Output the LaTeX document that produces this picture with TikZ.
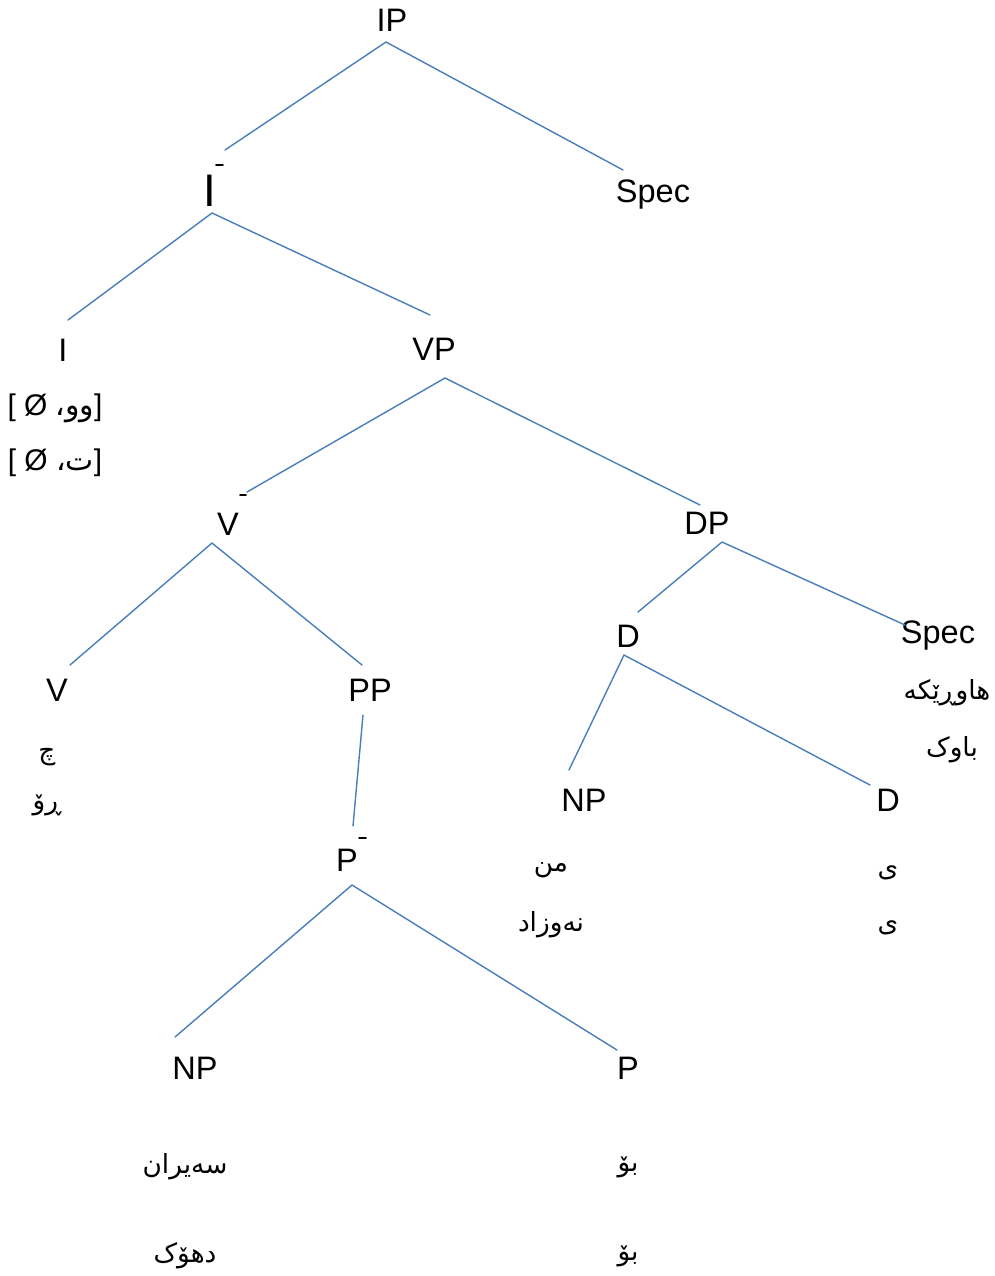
\documentclass[tikz,border=0pt]{standalone}
\usepackage{fontspec}
\setmainfont{Liberation Sans}
\newfontfamily\arabicfont[Script=Arabic]{DejaVu Sans}
\TeXXeTstate=1
\usetikzlibrary{positioning}
\definecolor{branchblue}{RGB}{74,126,187}

\tikzset{
  branch/.style={draw=branchblue, line width=0.8pt},
  cat/.style={inner sep=0pt, font=\fontsize{18.5}{22}\selectfont},
  bigcat/.style={inner sep=0pt, font=\fontsize{26}{30}\selectfont},
  bracketed/.style={inner sep=0pt, font=\fontsize{17}{20}\selectfont},
  word/.style={inner sep=0pt, font=\fontsize{15}{20}\selectfont\arabicfont},
  barmark/.style={draw=black, line width=1.1pt}
}

\begin{document}
\begin{tikzpicture}[x=0.02cm, y=-0.02cm, line cap=round, line join=round]
            \useasboundingbox (0,0) rectangle (995,1276);

            % category labels
            \node[cat] (ip)    at (392,20)   {IP};
            \node[cat] (spec1) at (653,195)  {Spec};
            \node[bigcat] (ibar) at (210,191) {I};
            \draw[barmark] (216,165) -- (223,165);
            \node[cat] (i)     at (63,350)   {I};
            \node[cat] (vp)    at (434,349)  {VP};
            \node[cat] (vbar)  at (228,524)  {V};
            \draw[barmark] (240,495) -- (246,495);
            \node[cat] (dp)    at (707,523)  {DP};
            \node[cat] (d1)    at (628,636)  {D};
            \node[cat] (spec2) at (938,636)  {Spec};
            \node[cat] (v)     at (57,690)   {V};
            \node[cat] (pp)    at (370,690)  {PP};
            \node[cat] (np1)   at (584,800)  {NP};
            \node[cat] (d2)    at (888,800)  {D};
            \node[cat] (pbar)  at (347,860)  {P};
            \draw[barmark] (359,838) -- (366,838);
            \node[cat] (np2)   at (195,1068) {NP};
            \node[cat] (p)     at (628,1068) {P};

            % words under the leaves
            \node[bracketed] (ia) at (55,408) {[ Ø \beginR{\arabicfont وو،}\endR]};
            \node[bracketed] (ib) at (55,463) {[ Ø \beginR{\arabicfont ت،}\endR]};
            \node[word] (va) at (47,757)  {\beginR چ\endR};
            \node[word] (vb) at (47,805)  {\beginR ڕۆ\endR};
            \node[word] (sa) at (947,693) {\beginR هاوڕێکە\endR};
            \node[word] (sb) at (952,750) {\beginR باوک\endR};
            \node[word] (na) at (551,870) {\beginR من\endR};
            \node[word] (nb) at (551,925) {\beginR نەوزاد\endR};
            \node[word] (da) at (888,873) {\beginR ی\endR};
            \node[word] (db) at (888,928) {\beginR ی\endR};
            \node[word] (pa) at (185,1167) {\beginR سەیران\endR};
            \node[word] (pb) at (185,1256) {\beginR دهۆک\endR};
            \node[word] (qa) at (628,1167) {\beginR بۆ\endR};
            \node[word] (qb) at (628,1256) {\beginR بۆ\endR};

            % branch ends
            \coordinate (ip-b)    at (386,42);
            \coordinate (ibar-t)  at (225,150);
            \coordinate (spec1-t) at (623,170);
            \coordinate (ibar-b)  at (212,213);
            \coordinate (i-t)     at (68,320);
            \coordinate (vp-t)    at (430,315);
            \coordinate (vp-b)    at (445,378);
            \coordinate (vbar-t)  at (247,492);
            \coordinate (dp-t)    at (700,505);
            \coordinate (vbar-b)  at (212,543);
            \coordinate (v-t)     at (70,665);
            \coordinate (pp-t)    at (362,665);
            \coordinate (dp-b)    at (722,542);
            \coordinate (d1-t)    at (638,612);
            \coordinate (spec2-t) at (905,625);
            \coordinate (pp-b)    at (363,715);
            \coordinate (pbar-t)  at (353,826);
            \coordinate (d1-b)    at (624,655);
            \coordinate (np1-t)   at (569,770);
            \coordinate (d2-t)    at (870,785);
            \coordinate (pbar-b)  at (352,885);
            \coordinate (np2-t)   at (175,1037);
            \coordinate (p-t)     at (617,1050);

            % branches
            \draw[branch] (ibar-t) -- (ip-b) -- (spec1-t);
            \draw[branch] (i-t) -- (ibar-b) -- (vp-t);
            \draw[branch] (vbar-t) -- (vp-b) -- (dp-t);
            \draw[branch] (v-t) -- (vbar-b) -- (pp-t);
            \draw[branch] (d1-t) -- (dp-b) -- (spec2-t);
            \draw[branch] (pp-b) -- (pbar-t);
            \draw[branch] (np1-t) -- (d1-b) -- (d2-t);
            \draw[branch] (np2-t) -- (pbar-b) -- (p-t);
\end{tikzpicture}
\end{document}
